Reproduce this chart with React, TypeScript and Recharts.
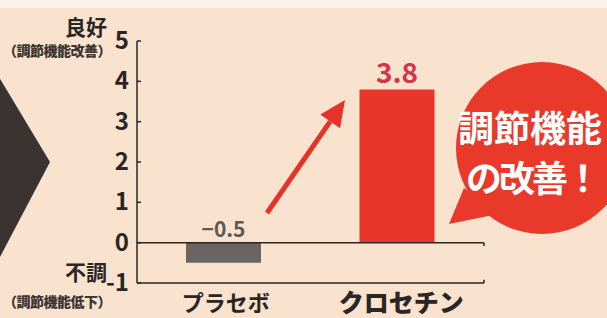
import { BarChart, Bar, XAxis, YAxis, Cell, LabelList, ReferenceLine } from 'recharts'

const categories = ['プラセボ', 'クロセチン']
const scores = [-0.5, 3.8]
const yTicks = [-1, 0, 1, 2, 3, 4, 5]
const barColors = ['#6a6561', '#e8372a']
const labelColors = ['#5d5854', '#d8334b']

const data = categories.map((name, i) => ({ name, score: scores[i] }))

const font = '"Noto Sans CJK JP", "Noto Sans", sans-serif'
const ink = '#2b2624'

function YTick({ x, y, payload }) {
    return (
        <g>
            <text x={x} y={y} dy={8} textAnchor='end' fontSize={24} fontWeight={700} fill={ink} fontFamily={font}>
                {payload.value}
            </text>
            <line x1={x + 8} y1={y} x2={x + 12} y2={y} stroke={ink} strokeWidth={1.5} />
        </g>
    )
}

function XTick({ x, y, payload, index }) {
    const big = index === 1
    return (
        <text x={x + (big ? 4 : 2)} y={y} dy={big ? 21 : 20} textAnchor='middle'
            fontSize={big ? 25 : 22} fontWeight={big ? 900 : 700} fill={ink} fontFamily={font}>
            {payload.value}
        </text>
    )
}

function ValueLabel({ x, y, width, height, value, index }) {
    const top = Math.min(y, y + height)
    const big = index === 1
    return (
        <text x={x + width / 2} y={top - 6} textAnchor='middle' fontSize={big ? 28 : 21} fontWeight={700}
            fill={labelColors[index]} fontFamily={font}>
            {value < 0 ? '−' + Math.abs(value) : value}
        </text>
    )
}

function Decor() {
    // arrow from placebo label towards crocetin bar
    const x1 = 267, y1 = 213, x2 = 345, y2 = 100
    const a = Math.atan2(y2 - y1, x2 - x1)
    const len = 26, half = 12
    const bx = x2 - len * Math.cos(a), by = y2 - len * Math.sin(a)
    const px = -Math.sin(a) * half, py = Math.cos(a) * half
    return (
        <svg width={607} height={318} style={{ position: 'absolute', left: 0, top: 0 }}>
            <rect width={607} height={318} fill='#f9e3ce' />
            <rect width={607} height={8} fill='#fcf1e7' />
            <polygon points='-10,62 50,162 -10,276' fill='#3b3331' />
            <line x1={x1} y1={y1} x2={bx} y2={by} stroke='#e5332a' strokeWidth={5} />
            <polygon points={`${x2},${y2} ${bx + px},${by + py} ${bx - px},${by - py}`} fill='#e5332a' />
            <circle cx={542} cy={148} r={86} fill='#e8392b' />
            <polygon points='464,188 449,224 498,214' fill='#e8392b' />
            <text x={458} y={142} fontSize={36} fontWeight={700} fill='#fff' fontFamily={font}>調節機能</text>
            <text x={466} y={192} fontSize={36} fontWeight={700} fill='#fff' fontFamily={font} letterSpacing={-3}>
                の改善！
            </text>
            <text x={86} y={35} textAnchor='middle' fontSize={21} fontWeight={700} fill={ink} fontFamily={font}>良好</text>
            <text x={57} y={56} textAnchor='middle' fontSize={14} fontWeight={900} fill='#3d3634' fontFamily={font} letterSpacing={-0.5}>（調節機能改善）</text>
            <text x={86} y={280} textAnchor='middle' fontSize={21} fontWeight={700} fill={ink} fontFamily={font}>不調</text>
            <text x={57} y={307} textAnchor='middle' fontSize={14} fontWeight={900} fill='#3d3634' fontFamily={font} letterSpacing={-0.5}>（調節機能低下）</text>
        </svg>
    )
}

export default function App() {
    return (
        <div style={{ position: 'fixed', left: 0, top: 0, width: 607, height: 318, overflow: 'hidden' }}>
            <Decor />
            <div style={{ position: 'absolute', left: 0, top: 0 }}>
                <BarChart width={607} height={318} data={data} barSize={75}
                    margin={{ top: 41, right: 123, left: 0, bottom: 5 }}>
                    <XAxis dataKey='name' height={30} tick={<XTick />} tickLine={false} axisLine={{ stroke: ink, strokeWidth: 1.5 }} interval={0} />
                    <XAxis xAxisId='n' type='number' domain={[0, 2]} hide />
                    <YAxis domain={[-1, 5]} ticks={yTicks} width={137} tickSize={0} tickMargin={8}
                        tick={<YTick />} axisLine={{ stroke: ink, strokeWidth: 1.5 }} />
                    <ReferenceLine y={0} stroke={ink} strokeWidth={1.5} />
                    <ReferenceLine xAxisId='n' segment={[{ x: 1, y: 0 }, { x: 1, y: -0.08 }]} stroke={ink} strokeWidth={1.5} />
                    <ReferenceLine xAxisId='n' segment={[{ x: 1, y: -1 }, { x: 1, y: -0.92 }]} stroke={ink} strokeWidth={1.5} />
                    <ReferenceLine xAxisId='n' segment={[{ x: 2, y: -1 }, { x: 2, y: -0.88 }]} stroke={ink} strokeWidth={1.5} />
                    <Bar dataKey='score' isAnimationActive={false}>
                        {data.map((d, i) => <Cell key={d.name} fill={barColors[i]} />)}
                        <LabelList dataKey='score' content={<ValueLabel />} />
                    </Bar>
                </BarChart>
            </div>
        </div>
    )
}
